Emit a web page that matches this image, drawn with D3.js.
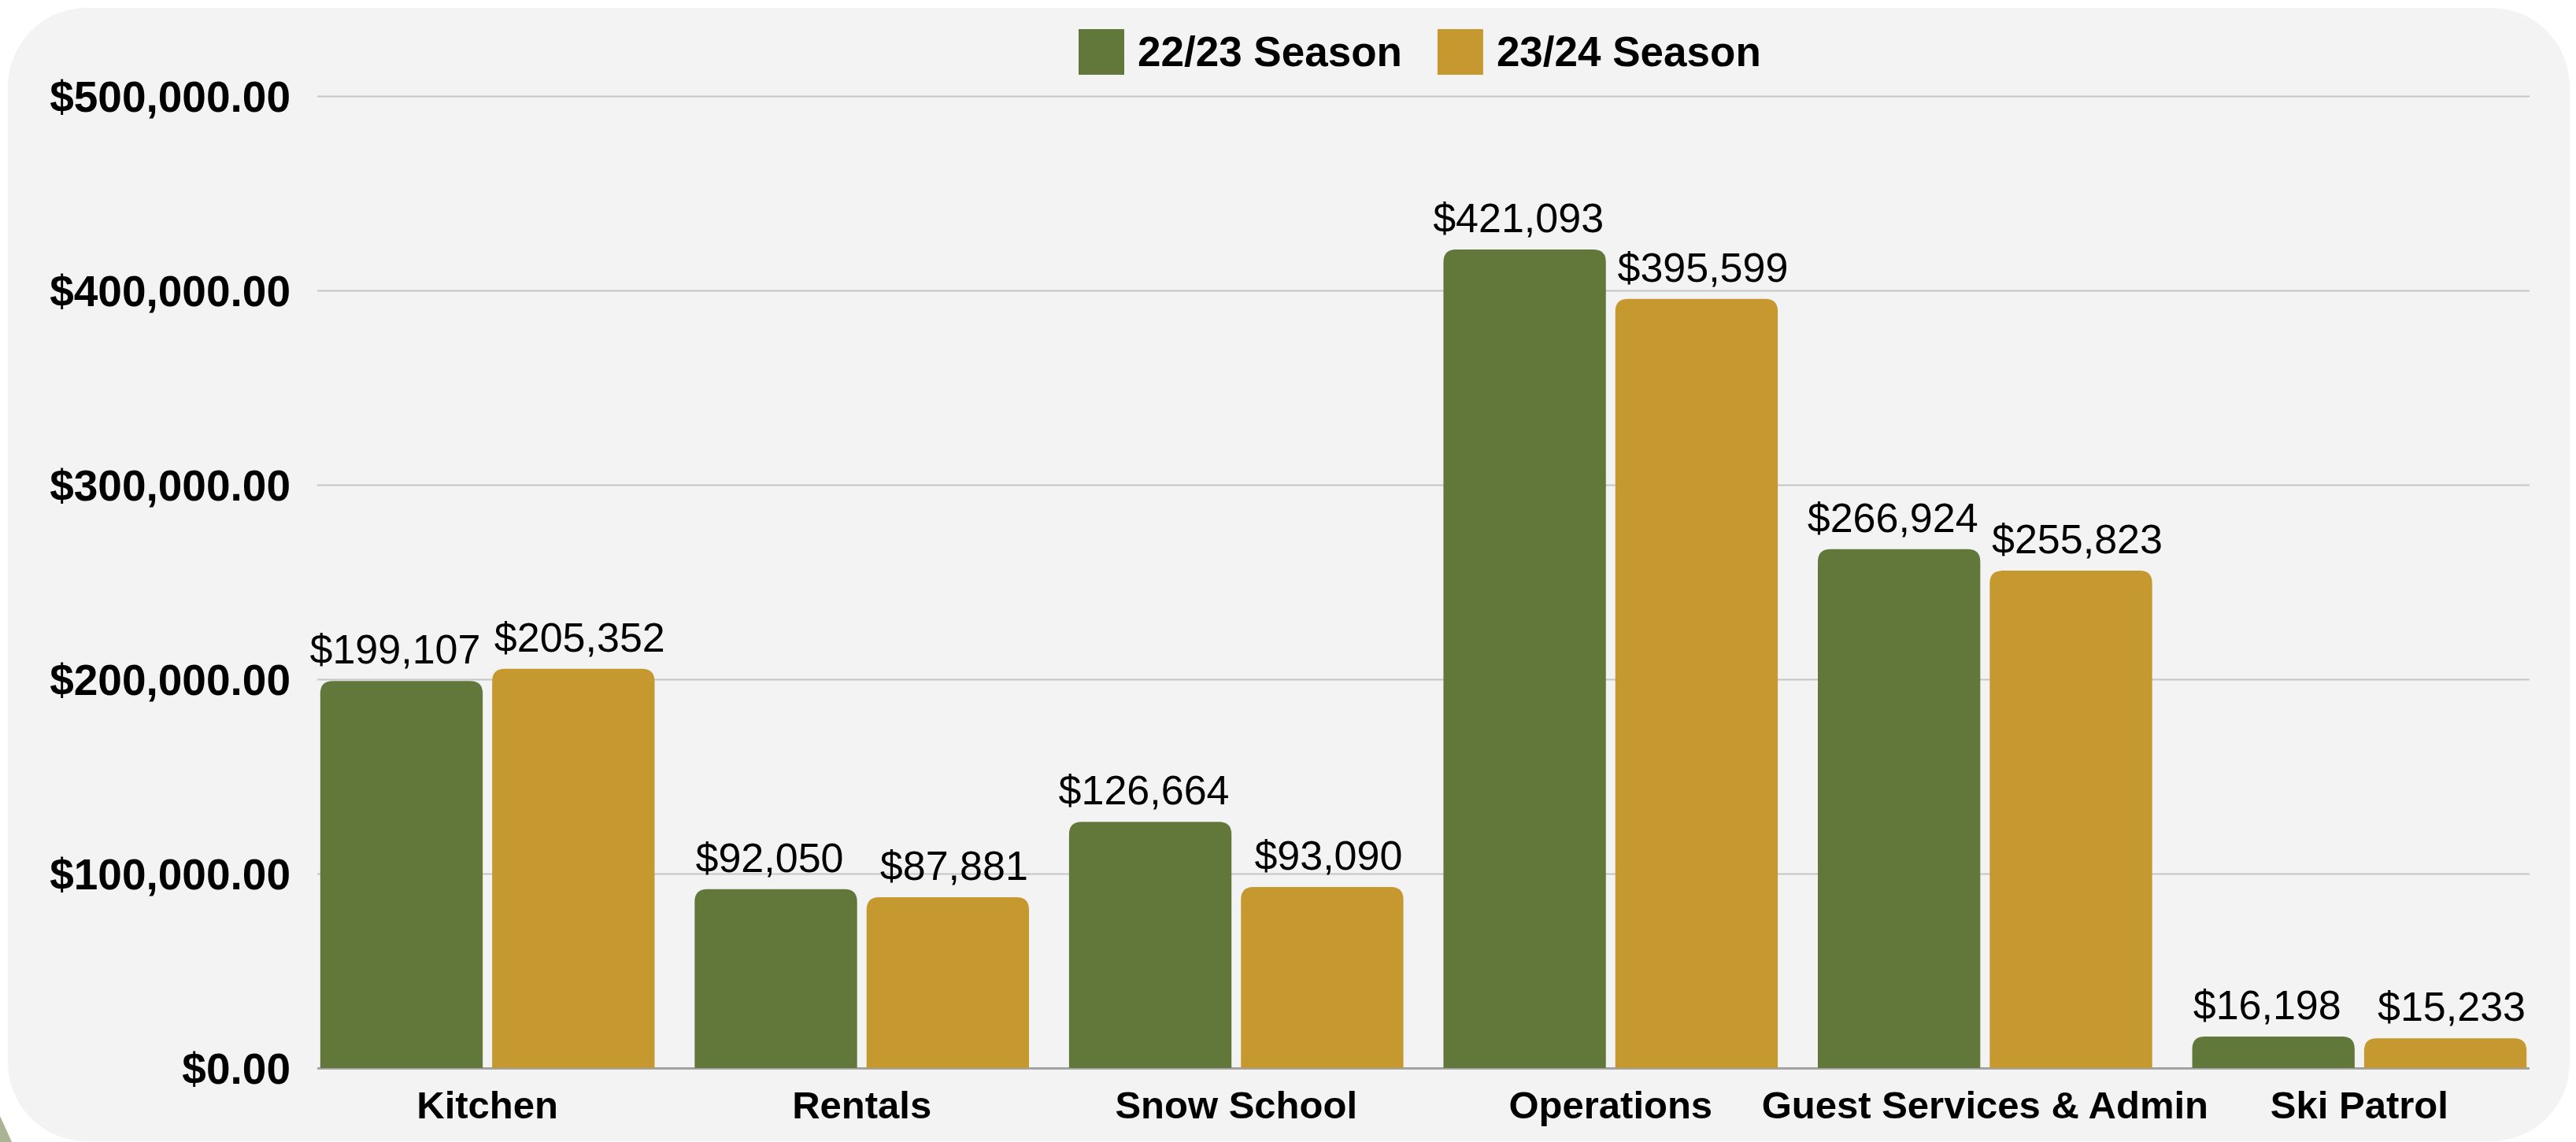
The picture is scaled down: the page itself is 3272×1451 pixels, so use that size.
<!DOCTYPE html>
<html>
<head>
<meta charset="utf-8">
<script src="https://cdn.jsdelivr.net/npm/d3@7"></script>
<style>
  html, body { margin: 0; padding: 0; background: #ffffff; }
  svg { display: block; font-family: "Liberation Sans", Arial, sans-serif; }
</style>
</head>
<body>
<div id="chart"></div>
<script>
const categories = ["Kitchen", "Rentals", "Snow School", "Operations", "Guest Services & Admin", "Ski Patrol"];
const seasons = ["22/23 Season", "23/24 Season"];
const season2223 = [199107, 92050, 126664, 421093, 266924, 16198];
const season2324 = [205352, 87881, 93090, 395599, 255823, 15233];
const yTicks = [0, 100000, 200000, 300000, 400000, 500000];
const colors = ["#62773a", "#c69830"];

const W = 3272, H = 1451;
const margin = { top: 122, right: 59, bottom: 95, left: 403 };

const svg = d3.select("#chart").append("svg")
  .attr("width", W)
  .attr("height", H);

// small decoration peeking out behind the panel
svg.append("path")
  .attr("d", "M0,1418 L0,1451 L15,1451 Z")
  .attr("fill", "#aab495");

// rounded panel
svg.append("rect")
  .attr("x", 10).attr("y", 10)
  .attr("width", 3254).attr("height", 1440)
  .attr("rx", 100).attr("ry", 100)
  .attr("fill", "#f3f3f3");

const plotW = W - margin.left - margin.right;
const plotH = H - margin.top - margin.bottom;

const g = svg.append("g")
  .attr("transform", "translate(" + margin.left + "," + margin.top + ")");

const x0 = d3.scaleBand()
  .domain(categories)
  .range([0, plotW])
  .paddingInner(0.107)
  .paddingOuter(0.008);

const x1 = d3.scaleBand()
  .domain(seasons)
  .range([0, x0.bandwidth()])
  .paddingInner(0.055);

const y = d3.scaleLinear()
  .domain([0, 500000])
  .range([plotH + 1, 0]);

// gridlines
g.append("g")
  .attr("class", "grid")
  .call(d3.axisLeft(y).tickValues(yTicks).tickSize(-plotW).tickFormat(""))
  .call(s => s.select(".domain").remove())
  .call(s => s.selectAll(".tick line")
    .attr("stroke", d => d === 0 ? "#a3a3a3" : "#c6c6c6")
    .attr("stroke-width", d => d === 0 ? 3 : 2));

// y axis labels
g.append("g")
  .attr("class", "axis axisY")
  .call(d3.axisLeft(y).tickValues(yTicks).tickSize(0).tickPadding(34)
    .tickFormat(d => "$" + d3.format(",.2f")(d)))
  .call(s => s.select(".domain").remove())
  .call(s => s.selectAll("text")
    .attr("fill", "#000")
    .attr("font-family", "'Liberation Sans', Arial, sans-serif")
    .attr("font-weight", "bold")
    .attr("font-size", 55)
    .attr("dy", "0.35em"));

// x axis labels
g.append("g")
  .attr("class", "axis axisX")
  .attr("transform", "translate(0," + plotH + ")")
  .call(d3.axisBottom(x0).tickSize(0).tickPadding(0))
  .call(s => s.select(".domain").remove())
  .call(s => s.selectAll("text")
    .attr("fill", "#000")
    .attr("font-family", "'Liberation Sans', Arial, sans-serif")
    .attr("font-weight", "bold")
    .attr("font-size", 49)
    .attr("dy", null)
    .attr("y", 65));

const rows = categories.map((c, i) => ({ cat: c, values: [season2223[i], season2324[i]] }));

function topRounded(x, yTop, w, h, r) {
  r = Math.min(r, w / 2, h);
  return "M" + x + "," + (yTop + h) +
    "V" + (yTop + r) +
    "Q" + x + "," + yTop + " " + (x + r) + "," + yTop +
    "H" + (x + w - r) +
    "Q" + (x + w) + "," + yTop + " " + (x + w) + "," + (yTop + r) +
    "V" + (yTop + h) + "Z";
}

const group = g.selectAll(".group")
  .data(rows)
  .enter()
  .append("g")
  .attr("class", "group")
  .attr("transform", d => "translate(" + x0(d.cat) + ",0)");

const bars = group.selectAll(".bar")
  .data(d => d.values.map((v, k) => ({ season: seasons[k], k: k, value: v })))
  .enter();

bars.append("path")
  .attr("class", "bar")
  .attr("fill", d => colors[d.k])
  .attr("d", d => topRounded(x1(d.season), y(d.value), x1.bandwidth(), y(0) - y(d.value), 16));

bars.append("text")
  .attr("x", d => x1(d.season) + x1.bandwidth() / 2 + (d.k === 0 ? -8 : 8))
  .attr("y", d => y(d.value) - 22)
  .attr("text-anchor", "middle")
  .attr("font-size", 52)
  .attr("fill", "#000")
  .text(d => "$" + d3.format(",")(d.value));

// legend
const legend = svg.append("g").attr("class", "legend");
let lx = 1370;
seasons.forEach((s, k) => {
  legend.append("rect")
    .attr("x", lx).attr("y", 37)
    .attr("width", 58).attr("height", 58)
    .attr("fill", colors[k]);
  const t = legend.append("text")
    .attr("x", lx + 75).attr("y", 84)
    .attr("font-weight", "bold")
    .attr("font-size", 53)
    .attr("fill", "#000")
    .text(s);
  lx = lx + 75 + t.node().getComputedTextLength() + 45;
});
</script>
</body>
</html>
